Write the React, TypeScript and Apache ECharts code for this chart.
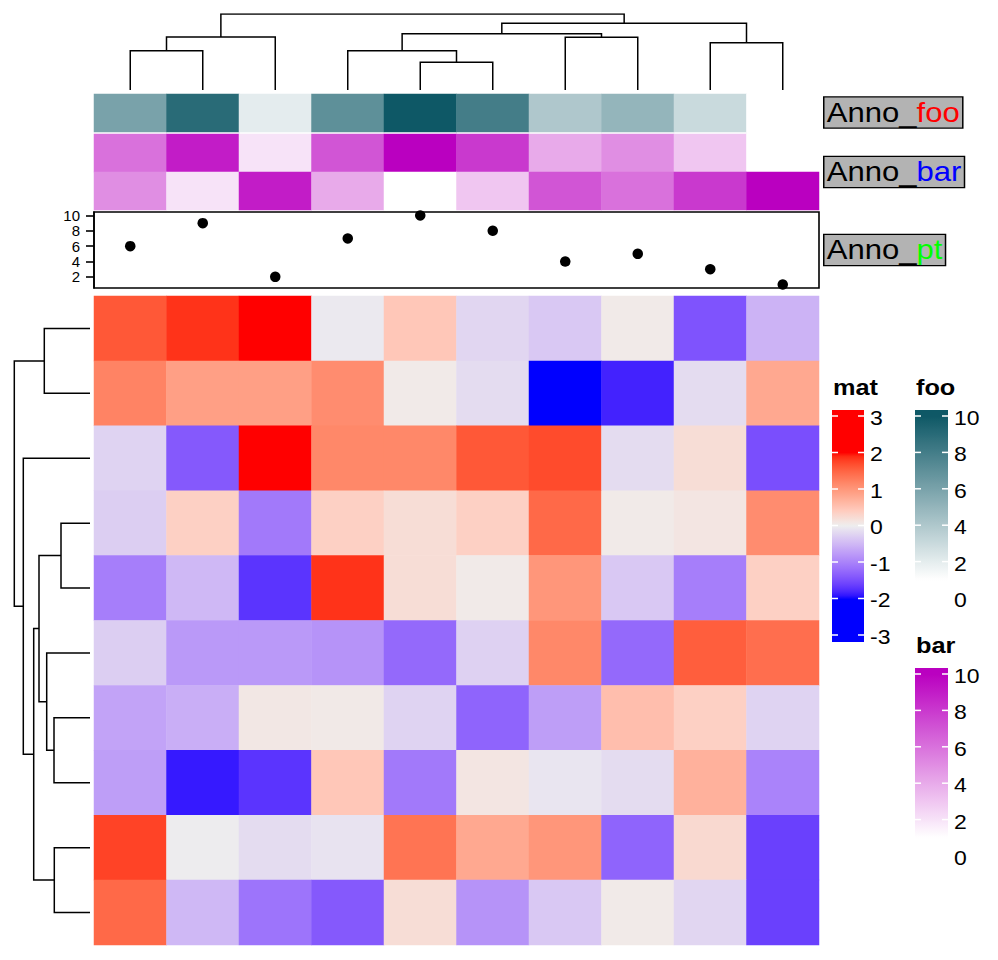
import React, { useEffect, useRef } from 'react';
import * as echarts from 'echarts';

// ---------------- data ----------------
const colLabels = ['c1', 'c2', 'c3', 'c4', 'c5', 'c6', 'c7', 'c8', 'c9', 'c10'];
const rowLabels = ['r1', 'r2', 'r3', 'r4', 'r5', 'r6', 'r7', 'r8', 'r9', 'r10'];

const matRow1 = [1.6, 1.85, 2.3, -0.05, 0.45, -0.22, -0.35, 0.05, -1.45, -0.55];
const matRow2 = [1.2, 0.9, 0.9, 1.1, 0.05, -0.17, -2.3, -1.85, -0.17, 0.8];
const matRow3 = [-0.25, -1.4, 2.2, 1.15, 1.15, 1.6, 1.7, -0.17, 0.2, -1.5];
const matRow4 = [-0.3, 0.35, -1.1, 0.35, 0.2, 0.35, 1.45, 0.05, 0.1, 1.1];
const matRow5 = [-1.05, -0.5, -1.72, 1.85, 0.2, 0.05, 1.0, -0.35, -1.05, 0.35];
const matRow6 = [-0.3, -0.8, -0.8, -0.85, -1.25, -0.27, 1.15, -1.25, 1.55, 1.4];
const matRow7 = [-0.7, -0.6, 0.08, 0.06, -0.25, -1.3, -0.75, 0.55, 0.35, -0.25];
const matRow8 = [-0.75, -1.9, -1.72, 0.45, -1.1, 0.1, -0.08, -0.17, 0.7, -1.0];
const matRow9 = [1.75, -0.02, -0.17, -0.1, 1.35, 0.8, 1.0, -1.3, 0.25, -1.62];
const matRow10 = [1.45, -0.5, -1.15, -1.4, 0.2, -0.85, -0.35, 0.05, -0.22, -1.62];
const matValues = [matRow1, matRow2, matRow3, matRow4, matRow5, matRow6, matRow7, matRow8, matRow9, matRow10];

const fooValues = [6, 9, 2, 7, 10, 8, 4, 5, 3, 1];
const barValues1 = [6, 9, 2, 7, 10, 8, 4, 5, 3, 1];
const barValues2 = [5, 2, 9, 4, 1, 3, 7, 6, 8, 10];
const ptValues = [6, 9, 2, 7, 10, 8, 4, 5, 3, 1];
const ptTicks = [2, 4, 6, 8, 10];

const matLegendTicks = [3, 2, 1, 0, -1, -2, -3];
const fooLegendTicks = [10, 8, 6, 4, 2, 0];
const barLegendTicks = [10, 8, 6, 4, 2, 0];

// hclust-like merges: negative = leaf position (1-based), positive = earlier merge; third = height
const colMerge = [
  [-5, -6, 2.77], [-1, -2, 3.93], [-4, 1, 3.93], [-9, -10, 4.73], [-7, -8, 5.27],
  [2, -3, 5.3], [3, 5, 5.63], [7, 4, 6.67], [6, 8, 7.6],
];
const rowMerge = [
  [-4, -5, 2.9], [-9, -10, 3.57], [-7, -8, 3.6], [-6, 3, 4.33], [-1, -2, 4.57],
  [1, 4, 5.1], [6, 2, 5.63], [-3, 7, 6.67], [5, 8, 7.57],
];

// ---------------- colour helpers ----------------
const Xn = 0.95047, Yn = 1.0, Zn = 1.08883;
const toLin = (c: number) => { c /= 255; return c <= 0.04045 ? c / 12.92 : Math.pow((c + 0.055) / 1.055, 2.4); };
const toSrgb = (c: number) => {
  const v = c <= 0.0031308 ? 12.92 * c : 1.055 * Math.pow(Math.max(c, 0), 1 / 2.4) - 0.055;
  return Math.round(Math.max(0, Math.min(1, v)) * 255);
};
const fl = (t: number) => (t > 0.008856 ? Math.cbrt(t) : 7.787 * t + 16 / 116);
const finv = (t: number) => (t > 0.206893 ? t * t * t : (t - 16 / 116) / 7.787);
const hex2 = (n: number) => Math.round(Math.max(0, Math.min(255, n))).toString(16).padStart(2, '0');
const parseHex = (hex: string) => [1, 3, 5].map((i) => parseInt(hex.slice(i, i + 2), 16));
function hexToLab(hex: string) {
  const [r, g, b] = parseHex(hex).map(toLin);
  const X = 0.4124 * r + 0.3576 * g + 0.1805 * b;
  const Y = 0.2126 * r + 0.7152 * g + 0.0722 * b;
  const Z = 0.0193 * r + 0.1192 * g + 0.9505 * b;
  const fx = fl(X / Xn), fy = fl(Y / Yn), fz = fl(Z / Zn);
  return [116 * fy - 16, 500 * (fx - fy), 200 * (fy - fz)];
}
function labToHex(lab: number[]) {
  const fy = (lab[0] + 16) / 116, fx = fy + lab[1] / 500, fz = fy - lab[2] / 200;
  const X = Xn * finv(fx), Y = Yn * finv(fy), Z = Zn * finv(fz);
  const r = 3.2406 * X - 1.5372 * Y - 0.4986 * Z;
  const g = -0.9689 * X + 1.8758 * Y + 0.0415 * Z;
  const b = 0.0557 * X - 0.204 * Y + 1.057 * Z;
  return '#' + hex2(toSrgb(r)) + hex2(toSrgb(g)) + hex2(toSrgb(b));
}
function ramp(breaks: number[], colors: string[], space: 'lab' | 'rgb') {
  const cols = colors.map(space === 'lab' ? hexToLab : parseHex);
  const out = space === 'lab' ? labToHex : (c: number[]) => '#' + c.map(hex2).join('');
  return (v: number) => {
    const n = breaks.length;
    if (v <= breaks[0]) return out(cols[0]);
    if (v >= breaks[n - 1]) return out(cols[n - 1]);
    let i = 0;
    while (v > breaks[i + 1]) i++;
    const t = (v - breaks[i]) / (breaks[i + 1] - breaks[i]);
    return out(cols[i].map((c, k) => c + (cols[i + 1][k] - c) * t));
  };
}
const matColor = ramp([-2, 0, 2], ['#0000FF', '#EEEEEE', '#FF0000'], 'lab');
const fooColor = ramp([1, 10], ['#FFFFFF', '#0E5866'], 'rgb');
const barColor = ramp([1, 10], ['#FFFFFF', '#BA00C0'], 'rgb');
const stops = (fn: (v: number) => string, min: number, max: number, n: number) =>
  Array.from({ length: n + 1 }, (_, i) => fn(min + ((max - min) * i) / n));

// ---------------- dendrogram builder ----------------
function dendroLines(merge: number[][], horizontal: boolean) {
  const nodes: { pos: number; h: number }[] = [];
  const lines: any[] = [];
  const get = (id: number) => (id < 0 ? { pos: -id - 0.5, h: 0 } : nodes[id - 1]);
  merge.forEach(([a, b, h]) => {
    const L = get(a), R = get(b);
    const pts = [[L.pos, L.h], [L.pos, h], [R.pos, h], [R.pos, R.h]];
    lines.push({ coords: horizontal ? pts : pts.map(([p, hh]) => [hh, p]) });
    nodes.push({ pos: (L.pos + R.pos) / 2, h });
  });
  return lines;
}

const FONT = '"Liberation Sans", Arial, Helvetica, sans-serif';
const SX = 1.15;

function legendGraphics(
  title: string, x: number, w: number, top: number, bottom: number,
  ticks: number[], y0: number, y1: number, fn: (v: number) => string
) {
  const els: any[] = [];
  const t0 = ticks[0], t1 = ticks[ticks.length - 1];
  const valAt = (y: number) => t0 + ((y - y0) / (y1 - y0)) * (t1 - t0);
  const cs: any[] = [];
  const N = 60;
  for (let i = 0; i <= N; i++) {
    const o = i / N;
    cs.push({ offset: o, color: fn(valAt(top + o * (bottom - top))) });
  }
  els.push({
    type: 'text', x: x + 1, y: top - 22, scaleX: SX,
    style: { text: title, fontSize: 22, fontWeight: 'bold', fontFamily: FONT, fill: '#000', verticalAlign: 'middle', align: 'left' },
  });
  els.push({
    type: 'rect', shape: { x, y: top, width: w, height: bottom - top },
    style: { fill: new echarts.graphic.LinearGradient(0, 0, 0, 1, cs) },
  });
  ticks.forEach((t, i) => {
    const y = y0 + ((y1 - y0) * i) / (ticks.length - 1);
    els.push({ type: 'line', shape: { x1: x, y1: y, x2: x + 6, y2: y }, style: { stroke: '#FFFFFF', lineWidth: 1.5 } });
    els.push({ type: 'line', shape: { x1: x + w - 6, y1: y, x2: x + w, y2: y }, style: { stroke: '#FFFFFF', lineWidth: 1.5 } });
    els.push({
      type: 'text', x: x + w + 6, y: y + 2, scaleX: SX,
      style: { text: String(t), fontSize: 20, fontFamily: FONT, fill: '#000', verticalAlign: 'middle', align: 'left' },
    });
  });
  return els;
}

function annoLabel(name: string, color: string, y: number) {
  return {
    type: 'text', x: 824.5, y, scaleX: SX,
    style: {
      text: '{k|Anno_}{c|' + name + '}',
      rich: {
        k: { fill: '#000000', fontSize: 27, fontFamily: FONT, lineHeight: 28 },
        c: { fill: color, fontSize: 27, fontFamily: FONT, lineHeight: 28 },
      },
      fontSize: 27, fontFamily: FONT, lineHeight: 28,
      align: 'left', verticalAlign: 'middle',
      backgroundColor: '#B3B3B3', borderColor: '#000000', borderWidth: 1.3,
      padding: [1, 2, 1, 2],
    },
  };
}

export default function App() {
  const ref = useRef<HTMLDivElement>(null);
  useEffect(() => {
    const chart = echarts.init(ref.current!, null, { renderer: 'svg' });

    const matData: any[] = [];
    matValues.forEach((row, r) => row.forEach((v, c) => matData.push([c, r, v])));
    const fooData = fooValues.map((v, c) => [c, 0, v]);
    const barData = [...barValues1.map((v, c) => [c, 0, v]), ...barValues2.map((v, c) => [c, 1, v])];
    const ptData = ptValues.map((v, c) => [c, v]);
    const colRoot = colMerge[colMerge.length - 1][2];
    const rowRoot = rowMerge[rowMerge.length - 1][2];

    const hidden = { show: false };

    const graphics = [
      ...legendGraphics('mat', 832, 32, 410, 642, matLegendTicks, 416, 635, matColor),
      ...legendGraphics('foo', 915, 33, 410, 604, fooLegendTicks, 416, 598, fooColor),
      ...legendGraphics('bar', 915, 33, 668, 863, barLegendTicks, 674, 856, barColor),
      annoLabel('foo', '#FF0000', 112.5),
      annoLabel('bar', '#0000FF', 172),
      annoLabel('pt', '#00FF00', 250),
    ];

    chart.setOption({
      animation: false,
      textStyle: { fontFamily: FONT },
      grid: [
        { left: 94, top: 296, width: 725, height: 649 },
        { left: 94, top: 94, width: 725, height: 38 },
        { left: 94, top: 134, width: 725, height: 76 },
        { left: 94, top: 212, width: 725, height: 76, show: true, borderColor: '#000', borderWidth: 1.6, backgroundColor: 'transparent' },
        { left: 94, top: 14, width: 725, height: 76 },
        { left: 14.3, top: 296, width: 75.7, height: 649 },
      ],
      xAxis: [
        { type: 'category', gridIndex: 0, data: colLabels, ...hidden },
        { type: 'category', gridIndex: 1, data: colLabels, ...hidden },
        { type: 'category', gridIndex: 2, data: colLabels, ...hidden },
        { type: 'category', gridIndex: 3, data: colLabels, ...hidden },
        { type: 'value', gridIndex: 4, min: 0, max: colLabels.length, ...hidden },
        { type: 'value', gridIndex: 5, min: 0, max: rowRoot, inverse: true, ...hidden },
      ],
      yAxis: [
        { type: 'category', gridIndex: 0, data: rowLabels, inverse: true, ...hidden },
        { type: 'category', gridIndex: 1, data: ['foo'], ...hidden },
        { type: 'category', gridIndex: 2, data: ['bar1', 'bar2'], inverse: true, ...hidden },
        {
          type: 'value', gridIndex: 3, min: 0.55, max: 10.45,
          axisLine: { show: true, lineStyle: { color: '#000', width: 1.6 } },
          axisTick: { show: true, length: 8, lineStyle: { color: '#000', width: 1.6 }, customValues: ptTicks },
          axisLabel: {
            show: true, fontSize: 15, lineHeight: 15, color: '#000', margin: 14, customValues: ptTicks,
            fontFamily: FONT, showMinLabel: true, showMaxLabel: true, hideOverlap: false,
          },
          splitLine: { show: false },
        },
        { type: 'value', gridIndex: 4, min: 0, max: colRoot, ...hidden },
        { type: 'value', gridIndex: 5, min: 0, max: rowLabels.length, inverse: true, ...hidden },
      ],
      visualMap: [
        { type: 'continuous', show: false, seriesIndex: 0, min: -3, max: 3, inRange: { color: stops(matColor, -3, 3, 120) } },
        { type: 'continuous', show: false, seriesIndex: 1, min: 1, max: 10, inRange: { color: stops(fooColor, 1, 10, 9) } },
        { type: 'continuous', show: false, seriesIndex: 2, min: 1, max: 10, inRange: { color: stops(barColor, 1, 10, 9) } },
      ],
      series: [
        { type: 'heatmap', xAxisIndex: 0, yAxisIndex: 0, data: matData, itemStyle: { borderWidth: 0 }, emphasis: { disabled: true } },
        { type: 'heatmap', xAxisIndex: 1, yAxisIndex: 1, data: fooData, itemStyle: { borderWidth: 0 }, emphasis: { disabled: true } },
        { type: 'heatmap', xAxisIndex: 2, yAxisIndex: 2, data: barData, itemStyle: { borderWidth: 0 }, emphasis: { disabled: true } },
        { type: 'scatter', xAxisIndex: 3, yAxisIndex: 3, data: ptData, symbolSize: 10.5, itemStyle: { color: '#000', opacity: 1 }, silent: true },
        {
          type: 'lines', coordinateSystem: 'cartesian2d', xAxisIndex: 4, yAxisIndex: 4, polyline: true,
          data: dendroLines(colMerge, true), lineStyle: { color: '#000', width: 1.5, opacity: 1 }, silent: true,
        },
        {
          type: 'lines', coordinateSystem: 'cartesian2d', xAxisIndex: 5, yAxisIndex: 5, polyline: true,
          data: dendroLines(rowMerge, false), lineStyle: { color: '#000', width: 1.5, opacity: 1 }, silent: true,
        },
      ],
      graphic: graphics,
    });
    return () => chart.dispose();
  }, []);
  return <div ref={ref} style={{ position: 'absolute', left: 0, top: 0, width: 998, height: 960 }} />;
}
